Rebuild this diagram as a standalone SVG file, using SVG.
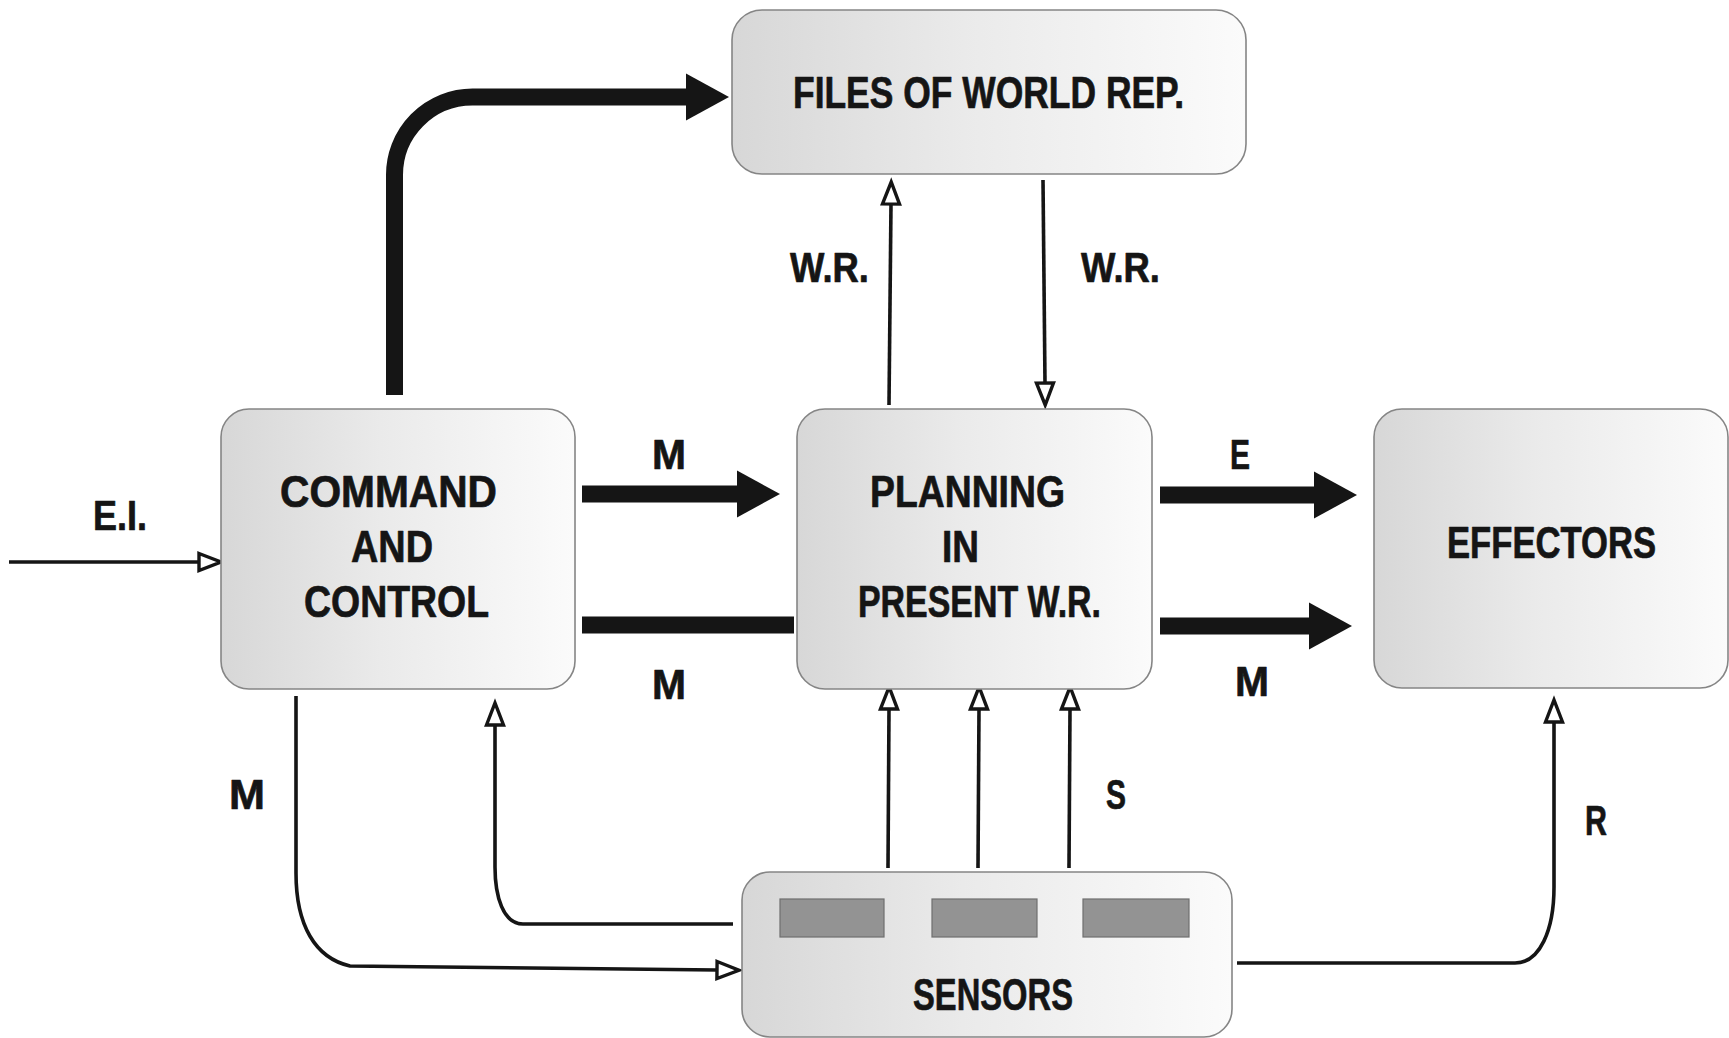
<svg xmlns="http://www.w3.org/2000/svg" width="1729" height="1038" viewBox="0 0 1729 1038">
  <style>
    .box { fill: url(#boxFill); stroke: #858585; stroke-width: 1.6; }
    .cell { fill: #939393; stroke: #6e6e6e; stroke-width: 1.2; }
    .txt { font-family: "Liberation Sans", Arial, sans-serif; font-weight: bold; fill: #151515; stroke: #151515; stroke-width: 0.7; stroke-linejoin: round; }
    .node { font-size: 44px; }
    .lbl { font-size: 42px; }
    .thick { fill: none; stroke: #151515; stroke-width: 17; stroke-linecap: butt; }
    .thin { fill: none; stroke: #151515; stroke-width: 3.6; stroke-linecap: butt; }
  </style>
  <defs>
    <linearGradient id="boxFill" x1="0" y1="0" x2="1" y2="0">
      <stop offset="0" stop-color="#d7d7d7"/>
      <stop offset="0.45" stop-color="#eaeaea"/>
      <stop offset="1" stop-color="#fbfbfb"/>
    </linearGradient>
    <!-- solid head for the broad flow arrows -->
    <marker id="solidHead" markerUnits="userSpaceOnUse" markerWidth="44" markerHeight="48" refX="0" refY="23.5" orient="auto" overflow="visible">
      <path d="M0,0 L43,23.5 L0,47 Z" fill="#151515"/>
    </marker>
    <!-- open head for the thin signal lines -->
    <marker id="openHead" markerUnits="userSpaceOnUse" markerWidth="30" markerHeight="24" refX="0" refY="10" orient="auto" overflow="visible">
      <path d="M0,1.5 L22,10 L0,18.5 Z" fill="#ffffff" stroke="#151515" stroke-width="3.4" stroke-linejoin="miter"/>
    </marker>
  </defs>

  <rect width="1729" height="1038" fill="#ffffff"/>

  <!-- connectors -->
  <g id="connectors">
    <path class="thick" d="M394.5,395 V176 A78,78 0 0 1 472.5,97 H686" marker-end="url(#solidHead)"/>
    <path class="thick" d="M582,494 H737" marker-end="url(#solidHead)"/>
    <path class="thick" d="M582,625 H794"/>
    <path class="thick" d="M1160,495 H1314" marker-end="url(#solidHead)"/>
    <path class="thick" d="M1160,626 H1309" marker-end="url(#solidHead)"/>

    <path class="thin" d="M889,405 L891,204" marker-end="url(#openHead)"/>
    <path class="thin" d="M1043,180 L1045,383" marker-end="url(#openHead)"/>
    <path class="thin" d="M9,562 H199" marker-end="url(#openHead)"/>
    <path class="thin" d="M888,868 L889,709" marker-end="url(#openHead)"/>
    <path class="thin" d="M978,868 L979,709" marker-end="url(#openHead)"/>
    <path class="thin" d="M1069,868 L1070,709" marker-end="url(#openHead)"/>
    <path class="thin" d="M296,696 V873 C296,925 315,958 350,966 L717,970" marker-end="url(#openHead)"/>
    <path class="thin" d="M733,924 H523 C503,924 495,896 495,867 V725" marker-end="url(#openHead)"/>
    <path class="thin" d="M1237,963 H1515 C1540,963 1554,930 1554,887 V722" marker-end="url(#openHead)"/>
  </g>

  <!-- nodes -->
  <g id="files">
    <rect class="box" x="732" y="10" width="514" height="164" rx="30" ry="30"/>
    <text class="txt node" x="793" y="108" textLength="391" lengthAdjust="spacingAndGlyphs">FILES OF WORLD REP.</text>
  </g>

  <g id="command">
    <rect class="box" x="221" y="409" width="354" height="280" rx="28" ry="28"/>
    <text class="txt node" x="280" y="507" textLength="217" lengthAdjust="spacingAndGlyphs">COMMAND</text>
    <text class="txt node" x="351" y="562" textLength="82" lengthAdjust="spacingAndGlyphs">AND</text>
    <text class="txt node" x="304" y="617" textLength="185" lengthAdjust="spacingAndGlyphs">CONTROL</text>
  </g>

  <g id="planning">
    <rect class="box" x="797" y="409" width="355" height="280" rx="28" ry="28"/>
    <text class="txt node" x="870" y="507" textLength="195" lengthAdjust="spacingAndGlyphs">PLANNING</text>
    <text class="txt node" x="942" y="562" textLength="37" lengthAdjust="spacingAndGlyphs">IN</text>
    <text class="txt node" x="858" y="617" textLength="243" lengthAdjust="spacingAndGlyphs">PRESENT W.R.</text>
  </g>

  <g id="effectors">
    <rect class="box" x="1374" y="409" width="354" height="279" rx="28" ry="28"/>
    <text class="txt node" x="1447" y="558" textLength="209" lengthAdjust="spacingAndGlyphs">EFFECTORS</text>
  </g>

  <g id="sensors">
    <rect class="box" x="742" y="872" width="490" height="165" rx="28" ry="28"/>
    <rect class="cell" x="780" y="899" width="104" height="38"/>
    <rect class="cell" x="932" y="899" width="105" height="38"/>
    <rect class="cell" x="1083" y="899" width="106" height="38"/>
    <text class="txt node" x="913" y="1010" textLength="160" lengthAdjust="spacingAndGlyphs">SENSORS</text>
  </g>

  <!-- connector labels -->
  <g id="labels">
    <text class="txt lbl" x="790" y="282" textLength="79" lengthAdjust="spacingAndGlyphs">W.R.</text>
    <text class="txt lbl" x="1081" y="282" textLength="79" lengthAdjust="spacingAndGlyphs">W.R.</text>
    <text class="txt lbl" x="652" y="469" textLength="34" lengthAdjust="spacingAndGlyphs">M</text>
    <text class="txt lbl" x="1230" y="469" textLength="20" lengthAdjust="spacingAndGlyphs">E</text>
    <text class="txt lbl" x="652" y="699" textLength="34" lengthAdjust="spacingAndGlyphs">M</text>
    <text class="txt lbl" x="1235" y="696" textLength="34" lengthAdjust="spacingAndGlyphs">M</text>
    <text class="txt lbl" x="93" y="530" textLength="54" lengthAdjust="spacingAndGlyphs">E.I.</text>
    <text class="txt lbl" x="229" y="809" textLength="36" lengthAdjust="spacingAndGlyphs">M</text>
    <text class="txt lbl" x="1106" y="809" textLength="20" lengthAdjust="spacingAndGlyphs">S</text>
    <text class="txt lbl" x="1585" y="835" textLength="22" lengthAdjust="spacingAndGlyphs">R</text>
  </g>
</svg>
